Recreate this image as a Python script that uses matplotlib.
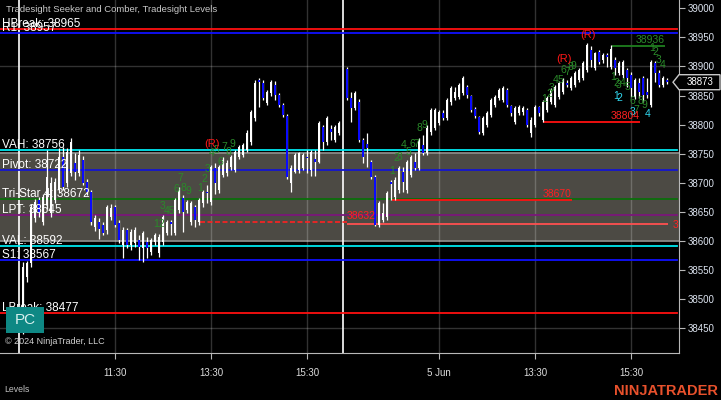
# NinjaTrader style chart - Tradesight Seeker/Comber + Levels
import numpy as np
import matplotlib
matplotlib.use("Agg")
import matplotlib.pyplot as plt
from matplotlib.patches import Rectangle, Polygon

plt.rcParams['font.family'] = ['Liberation Sans', 'DejaVu Sans']

# 5-minute bars, day 1 (4 Jun) and day 2 (5 Jun)
open_d1 = [38460, 38538, 38562, 38640, 38671, 38633, 38662, 38648, 38671, 38688,
           38744, 38700, 38717, 38734, 38717, 38739, 38702, 38684, 38624, 38633,
           38628, 38619, 38641, 38659, 38631, 38593, 38619, 38593, 38597, 38602,
           38588, 38598, 38581, 38598, 38580, 38598, 38614, 38633, 38614, 38653,
           38674, 38653, 38633, 38659, 38633, 38665, 38684, 38667, 38726, 38688,
           38714, 38717, 38727, 38722, 38744, 38748, 38756, 38770, 38811, 38877,
           38872, 38837, 38854, 38868, 38851, 38834, 38815, 38700, 38719, 38722,
           38726, 38744, 38722, 38741, 38736, 38796, 38770, 38793, 38774, 38786]
close_d1 = [38556, 38562, 38659, 38667, 38648, 38676, 38710, 38700, 38702, 38744,
            38693, 38753, 38770, 38719, 38748, 38700, 38684, 38633, 38640, 38621,
            38614, 38659, 38657, 38628, 38602, 38619, 38593, 38616, 38619, 38590,
            38614, 38588, 38602, 38610, 38607, 38641, 38633, 38630, 38671, 38688,
            38650, 38667, 38665, 38636, 38671, 38684, 38683, 38727, 38700, 38727,
            38739, 38734, 38744, 38753, 38762, 38765, 38786, 38822, 38872, 38873,
            38846, 38856, 38873, 38851, 38834, 38817, 38710, 38726, 38748, 38751,
            38748, 38742, 38753, 38736, 38803, 38770, 38811, 38787, 38796, 38803]
high_d1 = [38564, 38566, 38664, 38672, 38676, 38681, 38757, 38710, 38708, 38760,
           38762, 38760, 38777, 38751, 38756, 38746, 38707, 38688, 38645, 38640,
           38633, 38662, 38664, 38662, 38636, 38624, 38622, 38621, 38624, 38610,
           38617, 38607, 38605, 38614, 38612, 38645, 38636, 38636, 38674, 38693,
           38679, 38671, 38669, 38662, 38674, 38688, 38696, 38731, 38734, 38731,
           38744, 38739, 38748, 38756, 38765, 38768, 38791, 38825, 38877, 38880,
           38877, 38860, 38877, 38875, 38854, 38837, 38818, 38731, 38751, 38753,
           38751, 38756, 38756, 38756, 38806, 38799, 38815, 38799, 38799, 38806]
low_d1 = [38440, 38530, 38556, 38633, 38641, 38628, 38655, 38641, 38665, 38683,
          38688, 38693, 38712, 38705, 38712, 38696, 38679, 38628, 38617, 38604,
          38610, 38612, 38636, 38624, 38597, 38571, 38588, 38585, 38590, 38568,
          38564, 38571, 38576, 38593, 38573, 38593, 38610, 38610, 38610, 38648,
          38616, 38648, 38628, 38624, 38628, 38659, 38665, 38662, 38681, 38683,
          38710, 38712, 38722, 38719, 38741, 38744, 38753, 38765, 38806, 38830,
          38842, 38834, 38849, 38842, 38830, 38813, 38707, 38684, 38717, 38717,
          38722, 38717, 38712, 38712, 38734, 38756, 38765, 38774, 38770, 38782]

open_d2 = [38896, 38846, 38829, 38839, 38774, 38767, 38736, 38710, 38628, 38636,
           38641, 38702, 38676, 38688, 38719, 38688, 38714, 38736, 38726, 38765,
           38751, 38787, 38794, 38803, 38820, 38811, 38839, 38846, 38848, 38854,
           38865, 38849, 38827, 38813, 38786, 38799, 38817, 38834, 38846, 38842,
           38860, 38832, 38805, 38820, 38822, 38825, 38786, 38799, 38830, 38808,
           38825, 38839, 38834, 38848, 38856, 38872, 38863, 38868, 38877, 38880,
           38894, 38928, 38897, 38925, 38911, 38920, 38899, 38911, 38889, 38885,
           38894, 38885, 38848, 38872, 38880, 38856, 38834, 38906, 38889, 38868,
           38877]
close_d2 = [38846, 38829, 38854, 38774, 38744, 38760, 38710, 38628, 38665, 38648,
            38683, 38698, 38705, 38726, 38702, 38736, 38744, 38726, 38774, 38751,
            38794, 38825, 38825, 38822, 38811, 38842, 38863, 38856, 38868, 38880,
            38851, 38825, 38815, 38787, 38811, 38820, 38842, 38848, 38860, 38863,
            38834, 38820, 38829, 38830, 38829, 38799, 38808, 38830, 38820, 38839,
            38846, 38860, 38865, 38872, 38877, 38868, 38880, 38889, 38894, 38906,
            38937, 38911, 38923, 38908, 38920, 38916, 38930, 38897, 38906, 38908,
            38880, 38863, 38877, 38856, 38851, 38851, 38908, 38889, 38868, 38880,
            38873]
high_d2 = [38899, 38856, 38858, 38844, 38777, 38786, 38739, 38714, 38669, 38665,
           38686, 38705, 38710, 38729, 38727, 38739, 38748, 38751, 38777, 38782,
           38799, 38829, 38829, 38825, 38825, 38846, 38866, 38865, 38872, 38883,
           38868, 38851, 38830, 38815, 38815, 38823, 38846, 38851, 38863, 38866,
           38863, 38834, 38832, 38834, 38832, 38829, 38813, 38834, 38832, 38842,
           38849, 38863, 38868, 38875, 38880, 38877, 38883, 38892, 38897, 38909,
           38940, 38935, 38925, 38928, 38923, 38923, 38937, 38916, 38909, 38911,
           38897, 38890, 38880, 38880, 38883, 38880, 38911, 38909, 38894, 38883,
           38880]
low_d2 = [38842, 38805, 38825, 38770, 38734, 38727, 38707, 38626, 38624, 38633,
          38636, 38671, 38671, 38683, 38684, 38683, 38710, 38722, 38722, 38748,
          38748, 38782, 38791, 38799, 38808, 38808, 38834, 38842, 38844, 38851,
          38846, 38822, 38811, 38784, 38782, 38796, 38813, 38830, 38842, 38839,
          38830, 38815, 38801, 38817, 38817, 38796, 38779, 38796, 38815, 38804,
          38822, 38836, 38830, 38844, 38853, 38865, 38860, 38865, 38873, 38877,
          38890, 38899, 38894, 38904, 38906, 38899, 38896, 38885, 38885, 38880,
          38865, 38847, 38844, 38846, 38839, 38846, 38830, 38873, 38865, 38865,
          38870]

# Tradesight levels
level_names = ["HBreak", "R1", "VAH", "Pivot", "Tri-Star 4", "LPT", "VAL", "S1", "LBreak"]
level_values = [38965, 38957, 38756, 38722, 38672, 38645, 38592, 38567, 38477]
level_colors = ["#ff1010", "#1010ff", "#00e8f0", "#1414d0", "#0b6e0b", "#7a167a",
                "#00e8f0", "#1010ff", "#ff1010"]

# time axis
tick_bars = [23, 47, 71, 104, 128, 152]
tick_labels = ["11:30", "13:30", "15:30", "5 Jun", "13:30", "15:30"]
session_breaks = [-1, 80]

# seeker / comber counts: (bar, price, text)
green_counts = [
    (34, 38629, "12"), (35, 38660, "3"), (36.75, 38652, "45"), (38.25, 38690, "6"),
    (39.25, 38708, "7"), (40, 38691, "8"), (41.25, 38686, "9"),
    (44.25, 38691, "1"), (45.25, 38707, "2"), (46.25, 38724, "3"), (47.25, 38751, "4"),
    (48.25, 38757, "5"), (49.25, 38736, "6"), (50.25, 38762, "7"), (51.25, 38753, "8"),
    (52.25, 38767, "9"),
    (92.25, 38720, "1"), (93.25, 38742, "2"), (94.25, 38744, "3"), (95.25, 38765, "4"),
    (96.25, 38753, "5"), (97.25, 38767, "6"), (98.25, 38767, "7"), (99, 38794, "8"),
    (100.25, 38800, "9"),
    (130.25, 38844, "1"), (131.5, 38853, "2"), (132.25, 38863, "3"), (133.25, 38877, "4"),
    (134.25, 38877, "5"), (135, 38894, "6"), (136, 38891, "7"), (136.75, 38899, "8"),
    (137.5, 38901, "9"),
    (147.5, 38882, "1"), (148.25, 38872, "2"), (149, 38868, "3"), (150, 38872, "4"),
    (151, 38865, "5"), (152.25, 38841, "6"), (153.25, 38825, "7"), (154.25, 38841, "8"),
    (155.25, 38834, "9"),
    (157.25, 38932, "1"), (158, 38925, "2"), (159, 38911, "3"), (160, 38903, "4"),
]
cyan_counts = [(148.25, 38849, "1"), (149, 38846, "2"), (152.5, 38822, "3"), (156.25, 38818, "4")]
r_marks = [(47.25, 38767), (135.25, 38913), (141.25, 38954)]

# support / resistance segments: (start bar, end bar, price, label)
red_segments = [(92.25, 137.25, 38670, "38670"), (130, 154.25, 38804, "38804")]
green_segments = [(147.25, 160.5, 38936, "38936")]

last_price = 38873

# ------------------------------------------------------------------
fig = plt.figure(figsize=(7.21, 4.0), dpi=100, facecolor="black")
ax = fig.add_axes([0, 47 / 400, 679 / 721, 353 / 400], facecolor="black")

x1 = np.arange(len(open_d1))
x2 = np.arange(len(open_d2)) + 81
xs = np.concatenate([x1, x2])
opens = np.array(open_d1 + open_d2, dtype=float)
closes = np.array(close_d1 + close_d2, dtype=float)
highs = np.array(high_d1 + high_d2, dtype=float)
lows = np.array(low_d1 + low_d2, dtype=float)

ax.set_xlim(-5.75, 164)
ax.set_ylim(38407.8, 39014.2)

# value area box
ax.axhspan(38600, 38752, color="#4c4a44", zorder=0.5, lw=0)
for p in [38600, 38752]:
    ax.axhline(p, color="#8a8a88", lw=1.3, zorder=0.6)

# grid
for b in tick_bars:
    ax.axvline(b, color="white", alpha=0.2, lw=1, zorder=1)
for p in [38900, 38450]:
    ax.axhline(p, color="white", alpha=0.2, lw=1, zorder=1)

# session breaks
for b in session_breaks:
    ax.axvline(b, color="white", lw=1.2, zorder=1.5)

# levels
for name, val, col in zip(level_names, level_values, level_colors):
    ax.axhline(val, xmax=0.997, color=col, lw=1.3, zorder=2)
    ax.annotate(f"{name}: {val}", (0, val), xycoords=("axes fraction", "data"),
                xytext=(1.5, 1.5), textcoords="offset points", va="baseline",
                ha="left", color="white", fontsize=8.5, zorder=6)

# red segments
ax.hlines(38632, 44.25, 81, colors="#ff2020", linestyles=(0, (3, 1.5)), lw=1.2, zorder=2.5)
ax.text(81, 38634, "38632", color="#ff2020", fontsize=7.5, va="bottom", ha="left", zorder=6)
ax.hlines(38629, 81, 161.3, colors="#ff5050", lw=1.3, zorder=2.5)
ax.text(162.3, 38627, "3", color="#ff2020", fontsize=7.5, va="center", ha="left", zorder=6)
for a, b, p, lab in red_segments:
    ax.hlines(p, a, b, colors="#ff1010", lw=1.3, zorder=2.5)
    ax.text(b, p + 1.5, lab, color="#ff2020", fontsize=7.5, va="bottom", ha="right", zorder=6)
for a, b, p, lab in green_segments:
    ax.hlines(p, a, b, colors="#1f7f1f", lw=1.3, zorder=2.5)
    ax.text(b, p + 1.5, lab, color="#2a8a2a", fontsize=7.5, va="bottom", ha="right", zorder=6)

# candles
up = closes >= opens
ax.vlines(xs, lows, highs, colors="white", lw=0.9, zorder=3)
body_lo = np.minimum(opens, closes)
body_h = np.maximum(np.abs(closes - opens), 1.8)
ax.bar(xs, body_h, bottom=body_lo, width=0.5,
       color=np.where(up, "white", "#0a0aff"), lw=0, zorder=3.5)

# counts
for b, p, t in green_counts:
    ax.text(b, p, t, color="#2a8a2a", fontsize=7.5, ha="center", va="center", zorder=5)
for b, p, t in cyan_counts:
    ax.text(b, p, t, color="#30d8f0", fontsize=7.5, ha="center", va="center", zorder=5)
for b, p in r_marks:
    ax.text(b, p, "(R)", color="#ff1818", fontsize=8, ha="center", va="center", zorder=5)

# axes styling
for s in ["top", "left"]:
    ax.spines[s].set_visible(False)
for s in ["right", "bottom"]:
    ax.spines[s].set_color("#b8b8b8")
ax.yaxis.tick_right()
ax.set_yticks(np.arange(38450, 39001, 50))
ax.tick_params(axis="y", colors="#b8b8b8", labelcolor="#dde4f0", labelsize=7,
               length=4, pad=2)
ax.set_xticks(tick_bars)
ax.set_xticklabels(tick_labels)
ax.tick_params(axis="x", colors="#b8b8b8", labelcolor="#dddddd", labelsize=7,
               length=4, pad=7)

# last price marker
ytr = ax.transData
yp = ytr.transform((0, last_price))[1]
fy = yp / fig.bbox.height
pts = [(673 / 721, fy), (679 / 721, fy + 7.5 / 400), (720 / 721, fy + 7.5 / 400),
       (720 / 721, fy - 7.5 / 400), (679 / 721, fy - 7.5 / 400)]
fig.add_artist(Polygon(pts, closed=True, transform=fig.transFigure, facecolor="black",
                       edgecolor="#c8c8c8", lw=1, zorder=10))
fig.text(700 / 721, fy, str(last_price), color="white", fontsize=7, ha="center",
         va="center", zorder=11)

# texts / logos
fig.text(6 / 721, 1 - 10 / 400, "Tradesight Seeker and Comber, Tradesight Levels",
         color="#c8c8c8", fontsize=6.8, va="center", ha="left")
fig.add_artist(Rectangle((6 / 721, 1 - 333 / 400), 38 / 721, 26 / 400,
                         transform=fig.transFigure, facecolor="#0e8884", lw=0, zorder=10))
fig.text(25 / 721, 1 - 320 / 400, "PC", color="#d8f0ee", fontsize=11, ha="center",
         va="center", zorder=11)
fig.text(5 / 721, 1 - 341 / 400, "\u00a9 2024 NinjaTrader, LLC", color="#d0d0d0",
         fontsize=6.5, va="center", ha="left")
fig.text(4 / 721, 1 - 390 / 400, "Levels", color="#c0c0c0", fontsize=6.3,
         va="center", ha="left")
fig.text(718 / 721, 1 - 391 / 400, "NINJATRADER", color="#e8512c", fontsize=10.5,
         fontweight="bold", va="center", ha="right")

fig.savefig("out.png", dpi=100, facecolor="black")
